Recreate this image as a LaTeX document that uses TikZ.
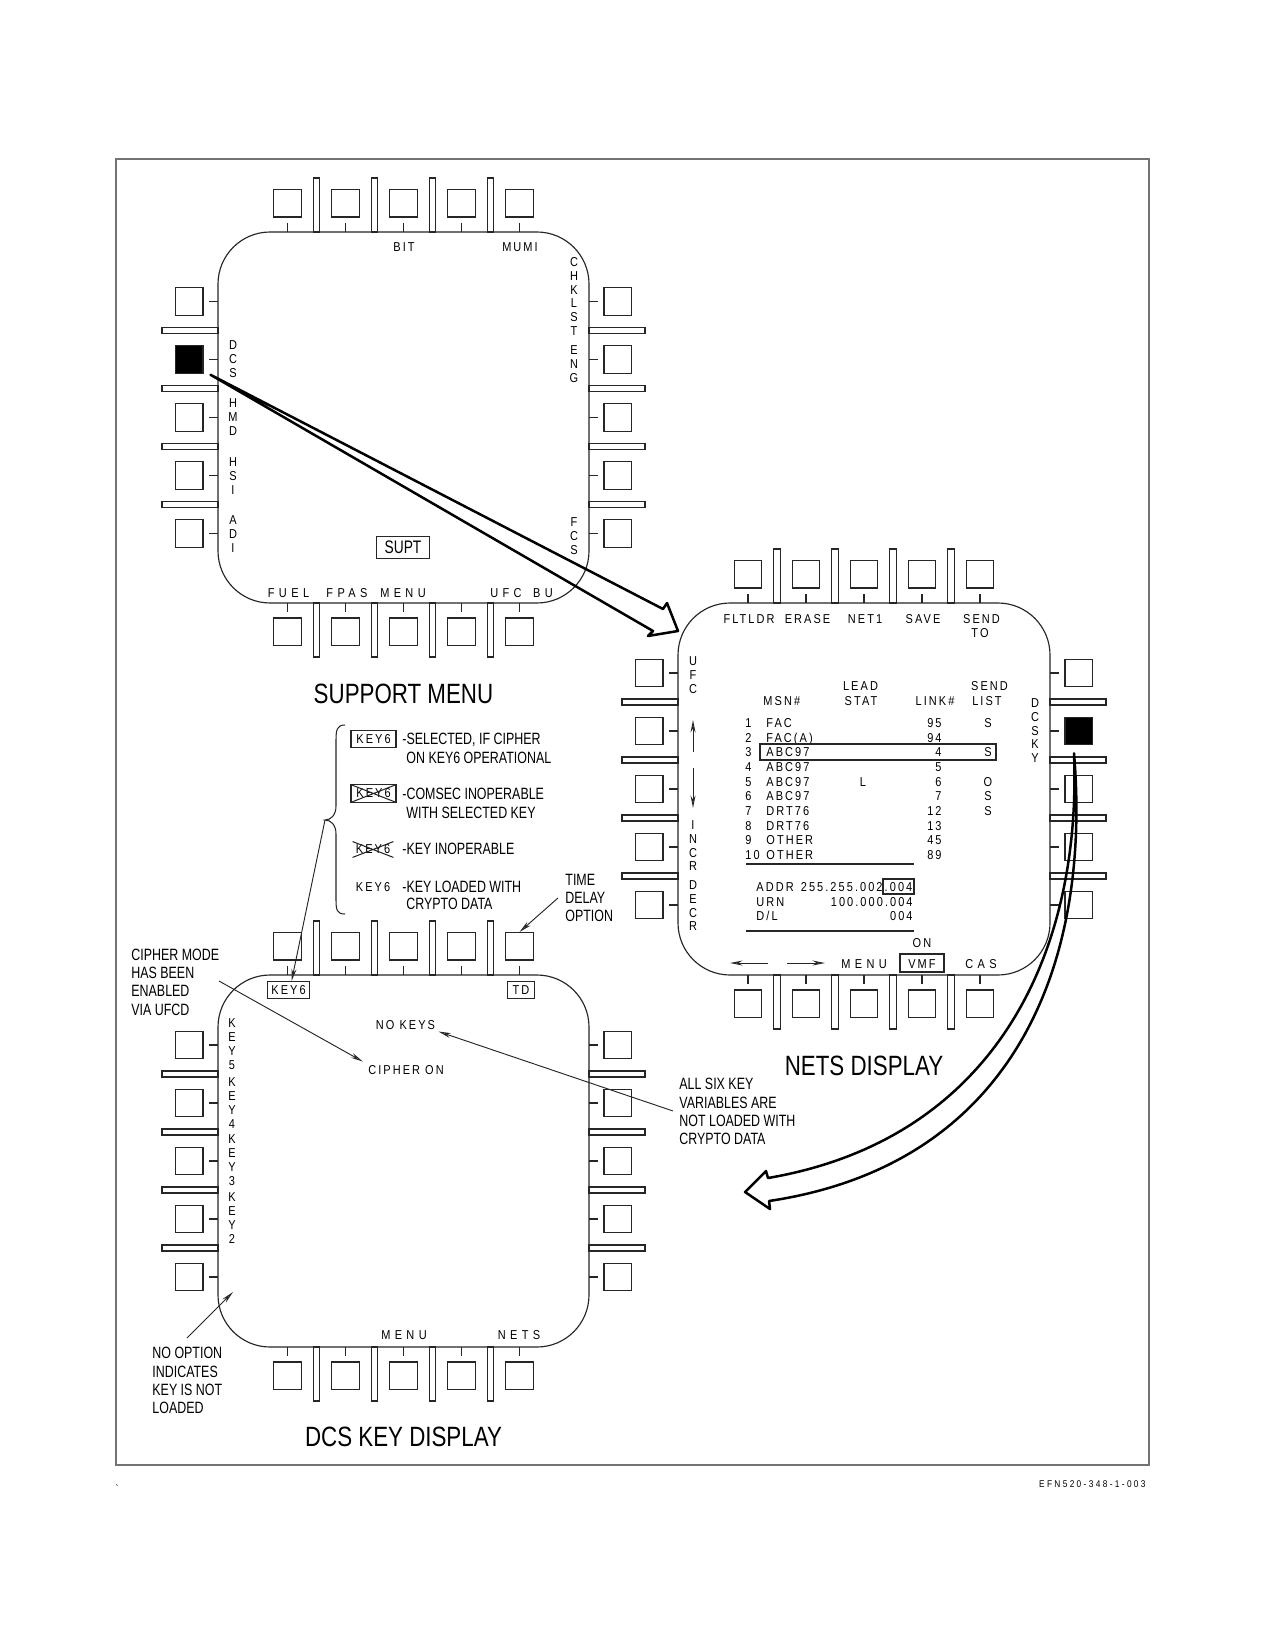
\documentclass[tikz,border=0pt]{standalone}
\usepackage{fontspec}
\setmainfont{Liberation Sans}
\newfontfamily\dfont[FakeStretch=0.85,LetterSpace=16]{Liberation Sans}
\newfontfamily\dwfont[FakeStretch=0.85,LetterSpace=34]{Liberation Sans}
\newfontfamily\efont[FakeStretch=0.85,LetterSpace=24]{Liberation Sans}
\newfontfamily\vfont[FakeStretch=0.85]{Liberation Sans}
\newfontfamily\afont[FakeStretch=0.76]{Liberation Sans}
\newfontfamily\tfont[FakeStretch=0.8]{Liberation Sans}
\usetikzlibrary{arrows.meta,calc}

\tikzset{
  ln/.style={draw=black!85, line width=0.5pt},
  btn/.style={draw=black!85, line width=0.5pt, minimum size=13.2pt, inner sep=0pt, fill=white},
  disp/.style={draw=black!85, line width=0.55pt, rounded corners=25pt},
  dl/.style={font=\dfont\fontsize{6.2pt}{6.53pt}\selectfont, inner sep=0pt},
  dw/.style={font=\dwfont\fontsize{6.2pt}{6.53pt}\selectfont, inner sep=0pt},
  vl/.style={font=\vfont\fontsize{6.2pt}{6.55pt}\selectfont, inner sep=0pt, align=center, anchor=north},
  an/.style={font=\afont\fontsize{7.85pt}{8.75pt}\selectfont, inner sep=0pt, align=left},
  ttl/.style={font=\tfont\fontsize{13.4pt}{15pt}\selectfont, inner sep=0pt},
  lead/.style={draw=black!85, line width=0.45pt, -{Stealth[open,length=6pt,width=2.4pt]}},
  big/.style={draw=black, line width=1.2pt, line join=round},
  kbox/.style={dl, draw=black!85, line width=0.5pt, minimum width=21.6pt, minimum height=8.2pt},
}

\newcommand\mfd[8]{%
  \draw[disp] ({#2-#4},{#3-#5}) rectangle ({#2+#4},{#3+#5});
  \foreach \k in {1,...,5}{%
    \pgfmathsetmacro\bx{#2+(\k-3)*58}%
    \pgfmathsetmacro\by{#3+(\k-3)*#6}%
    \ifnum\k=#7 \def\lfill{black}\else\def\lfill{white}\fi
    \ifnum\k=#8 \def\rfill{black}\else\def\rfill{white}\fi
    \node[btn] (#1-t\k) at (\bx,{#3-#5-28.75}) {};
    \node[btn] (#1-b\k) at (\bx,{#3+#5+28.75}) {};
    \node[btn,fill=\lfill] (#1-l\k) at ({#2-#4-28.75},\by) {};
    \node[btn,fill=\rfill] (#1-r\k) at ({#2+#4+28.75},\by) {};
    \draw[ln] (\bx,{#3-#5-9}) -- (\bx,{#3-#5}) (\bx,{#3+#5}) -- (\bx,{#3+#5+9})
              ({#2-#4-9},\by) -- ({#2-#4},\by) ({#2+#4},\by) -- ({#2+#4+9},\by);
  }%
  \foreach \k in {1,...,4}{%
    \pgfmathsetmacro\sx{#2+(\k-2.5)*58}%
    \pgfmathsetmacro\sy{#3+(\k-2.5)*#6}%
    \draw[ln] ({\sx-3.3},{#3-#5}) rectangle ({\sx+3.3},{#3-#5-54})
              ({\sx-3.3},{#3+#5}) rectangle ({\sx+3.3},{#3+#5+54})
              ({#2-#4},{\sy-3}) rectangle ({#2-#4-56},{\sy+3})
              ({#2+#4},{\sy-3}) rectangle ({#2+#4+56},{\sy+3});
  }%
}

\begin{document}
\begin{tikzpicture}[x=0.48pt,y=-0.48pt]
\useasboundingbox (0,0) rectangle (1275,1650);
\fill[white] (0,0) rectangle (1275,1650);
\draw[black!55, line width=0.6pt] (116,159) rectangle (1149,1465);

% ---------- displays ----------
\mfd{sm}{403.5}{417.5}{185.5}{185.5}{58}{2}{0}
\mfd{nd}{864}{789}{186}{186}{58}{0}{2}
\mfd{dk}{403.5}{1161}{185.5}{186}{58}{0}{0}

% ---------- SUPPORT MENU ----------
\node[dl, anchor=base] (sm-bit) at (404,252) {BIT};
\node[dl, anchor=base] (sm-mumi) at (520,252) {MUMI};
\node[vl] (sm-chk) at (574,257.5) {C\\H\\K\\L\\S\\T};
\node[vl] (sm-eng) at (574,345.5) {E\\N\\G};
\node[vl] (sm-fcs) at (574,517.5) {F\\C\\S};
\node[vl] (sm-dcs) at (233,340.5) {D\\C\\S};
\node[vl] (sm-hmd) at (233,398.5) {H\\M\\D};
\node[vl] (sm-hsi) at (233,457.5) {H\\S\\I};
\node[vl] (sm-adi) at (233,515.5) {A\\D\\I};
\node[draw=black!85, line width=0.5pt, font=\afont\fontsize{8.7pt}{9pt}\selectfont, inner sep=0pt,
      minimum width=25pt, minimum height=11pt] (sm-supt) at (403,547.5) {SUPT};
\node[dw, anchor=base] (sm-fuel) at (288.5,597) {FUEL};
\node[dw, anchor=base] (sm-fpas) at (347,597) {FPAS};
\node[dw, anchor=base] (sm-menu) at (403,597) {MENU};
\node[dw, anchor=base] (sm-ufc) at (506,597) {UFC};
\node[dw, anchor=base] (sm-bu) at (543,597) {BU};
\node[ttl] (sm-title) at (403.5,694) {SUPPORT MENU};

% ---------- NETS DISPLAY ----------
\node[dl, anchor=base] (nd-fltldr) at (749,623) {FLTLDR};
\node[dl, anchor=base] (nd-erase) at (807.5,623) {ERASE};
\node[dl, anchor=base] (nd-net1) at (865,623) {NET1};
\node[dl, anchor=base] (nd-save) at (923,623) {SAVE};
\node[dl, anchor=base] (nd-send) at (981.5,623) {SEND};
\node[dl, anchor=base] (nd-to) at (980,637) {TO};
\node[vl] (nd-ufc) at (693,656.5) {U\\F\\C};
\node[vl] (nd-incr) at (693,820.5) {I\\N\\C\\R};
\node[vl] (nd-decr) at (693,880.5) {D\\E\\C\\R};
\node[vl] (nd-dcsky) at (1035,698.5) {D\\C\\S\\K\\Y};
\coordinate (nd-up0) at (693,752);
\coordinate (nd-up1) at (693,720);
\coordinate (nd-dn0) at (693,768);
\coordinate (nd-dn1) at (693,808);
\draw[lead] (nd-up0) -- (nd-up1);
\draw[lead] (nd-dn0) -- (nd-dn1);

\node[dl, anchor=base west] (nd-msn) at (763,705.6) {MSN\#};
\node[dl, anchor=base] (nd-lead) at (860.5,690.6) {LEAD};
\node[dl, anchor=base] (nd-stat) at (861,705.6) {STAT};
\node[dl, anchor=base] (nd-link) at (935,705.6) {LINK\#};
\node[dl, anchor=base] (nd-sendl) at (989.5,690.6) {SEND};
\node[dl, anchor=base] (nd-list) at (987,705.6) {LIST};

\foreach \i/\rnm/\rlk/\rsd in {1/FAC/95/S, 2/FAC(A)/94/{}, 3/ABC97/4/S, 4/ABC97/5/{}, 5/ABC97/6/O,
  6/ABC97/7/S, 7/DRT76/12/S, 8/DRT76/13/{}, 9/OTHER/45/{}, 10/OTHER/89/{}}{%
  \pgfmathsetmacro\ry{727.6+(\i-1)*14.67}%
  \node[dl, anchor=base west] (nd-n\i) at (745,\ry) {\i};
  \node[dl, anchor=base west] (nd-m\i) at (766,\ry) {\rnm};
  \node[dl, anchor=base east] (nd-k\i) at (942,\ry) {\rlk};
  \node[dl, anchor=base] (nd-s\i) at (988,\ry) {\rsd};
}
\node[dl, anchor=base] (nd-l5) at (863,{727.6+4*14.67}) {L};
\draw[ln] (760,744) rectangle (996,760);
\coordinate (nd-ln1a) at (746,864);
\coordinate (nd-ln1b) at (914,864);
\coordinate (nd-ln2a) at (746,931);
\coordinate (nd-ln2b) at (914,931);
\draw[ln] (nd-ln1a) -- (nd-ln1b);
\draw[ln] (nd-ln2a) -- (nd-ln2b);
\node[dl, anchor=base west] (nd-addr) at (756,891.6) {ADDR};
\node[dl, anchor=base east] (nd-addrv) at (883,891.6) {255.255.002};
\node[dl, anchor=base] (nd-addrs) at (898.5,891.6) {.004};
\draw[ln] (883,879) rectangle (914,894);
\node[dl, anchor=base west] (nd-urn) at (756,906.6) {URN};
\node[dl, anchor=base east] (nd-urnv) at (913,906.6) {100.000.004};
\node[dl, anchor=base west] (nd-dl) at (756,920.6) {D/L};
\node[dl, anchor=base east] (nd-dlv) at (913,920.6) {004};
\node[dl, anchor=base] (nd-on) at (922,947.6) {ON};
\coordinate (nd-la0) at (768,963);
\coordinate (nd-la1) at (730,963);
\coordinate (nd-ra0) at (787,963);
\coordinate (nd-ra1) at (825,963);
\draw[lead] (nd-la0) -- (nd-la1);
\draw[lead] (nd-ra0) -- (nd-ra1);
\node[dw, anchor=base] (nd-menu) at (864,968) {MENU};
\node[dl, anchor=base] (nd-vmf) at (922,968) {VMF};
\draw[ln] (900,954) rectangle (944,972);
\node[dw, anchor=base] (nd-cas) at (981,968) {CAS};
\node[ttl] (nd-title) at (864,1066) {NETS DISPLAY};

% ---------- DCS KEY DISPLAY ----------
\node[kbox, minimum width=20.6pt, minimum height=7.9pt] (dk-key6) at (288.5,990) {KEY6};
\node[kbox, minimum width=13.4pt, minimum height=7.9pt] (dk-td) at (521,990) {TD};
\node[vl, font=\vfont\fontsize{6.2pt}{6.72pt}\selectfont] (dk-k5) at (232,1018) {K\\E\\Y\\5};
\node[vl, font=\vfont\fontsize{6.2pt}{6.72pt}\selectfont] (dk-k4) at (232,1077) {K\\E\\Y\\4};
\node[vl, font=\vfont\fontsize{6.2pt}{6.72pt}\selectfont] (dk-k3) at (232,1134) {K\\E\\Y\\3};
\node[vl, font=\vfont\fontsize{6.2pt}{6.72pt}\selectfont] (dk-k2) at (232,1192.6) {K\\E\\Y\\2};
\node[dl, anchor=base] (dk-nokeys) at (405.5,1029.5) {NO KEYS};
\node[dl, anchor=base] (dk-cipher) at (406,1074) {CIPHER ON};
\node[dw, anchor=base] (dk-menu) at (404,1339.5) {MENU};
\node[dw, anchor=base] (dk-nets) at (519,1339.5) {NETS};
\node[ttl] (dk-title) at (403.5,1437) {DCS KEY DISPLAY};

% ---------- legend ----------
\coordinate (br-tip) at (325,820);
\draw[ln] (345,725) .. controls (337,725) and (336,730) .. (336,740) -- (336,806)
          .. controls (336,815) and (331,820) .. (br-tip)
          .. controls (331,820) and (336,825) .. (336,834) -- (336,900)
          .. controls (336,910) and (337,914) .. (345,914);
\node[kbox] (lg-k1) at (373.5,739) {KEY6};
\node[an, anchor=base west] (lg-t1a) at (402,744) {-SELECTED, IF CIPHER};
\node[an, anchor=base west] (lg-t1b) at (406,763) {ON KEY6 OPERATIONAL};
\node[kbox] (lg-k2) at (373.5,793.5) {KEY6};
\draw[ln] (lg-k2.north west) -- (lg-k2.south east) (lg-k2.south west) -- (lg-k2.north east);
\node[an, anchor=base west] (lg-t2a) at (402,799) {-COMSEC INOPERABLE};
\node[an, anchor=base west] (lg-t2b) at (406,818) {WITH SELECTED KEY};
\node[dl, minimum width=19.2pt, minimum height=7.2pt] (lg-k3) at (373,849.5) {KEY6};
\draw[ln] (lg-k3.north west) -- (lg-k3.south east) (lg-k3.south west) -- (lg-k3.north east);
\node[an, anchor=base west] (lg-t3a) at (402,854) {-KEY INOPERABLE};
\node[dl, anchor=base] (lg-k4) at (373,891) {KEY6};
\node[an, anchor=base west] (lg-t4a) at (402,892) {-KEY LOADED WITH};
\node[an, anchor=base west] (lg-t4b) at (406,909) {CRYPTO DATA};
\draw[lead] (br-tip) -- ($(dk-key6.north)+(3,0)$);

% ---------- notes ----------
\node[an, anchor=north west] (nt-td) at (565,873.5) {TIME\\DELAY\\OPTION};
\coordinate (nt-td-from) at (558,898);
\draw[lead] (nt-td-from) -- (dk-t5.north);

\node[an, anchor=north west] (nt-ciph) at (131,948.6) {CIPHER MODE\\HAS BEEN\\ENABLED\\VIA UFCD};
\coordinate (nt-ciph-from) at (219,981);
\draw[lead] (nt-ciph-from) -- ($(dk-cipher.north west)+(-5,-3)$);

\node[an, anchor=north west] (nt-six) at (679,1078) {ALL SIX KEY\\VARIABLES ARE\\NOT LOADED WITH\\CRYPTO DATA};
\coordinate (nt-six-from) at (673,1111);
\draw[lead] (nt-six-from) -- ($(dk-nokeys.south east)+(3,1.5)$);

\node[an, anchor=north west] (nt-noopt) at (152,1347) {NO OPTION\\INDICATES\\KEY IS NOT\\LOADED};
\coordinate (nt-noopt-from) at (187,1338);
\coordinate (nt-noopt-to) at (233,1292);
\draw[lead] (nt-noopt-from) -- (nt-noopt-to);

% ---------- big arrows ----------
\coordinate (ba-tail) at ($(sm-l2.south east)+(7,1)$);
\coordinate (ba-tip) at (678,631);
\draw[big] (ba-tail) -- (663,609) -- (667,603) -- (ba-tip) -- (648,636) -- (653,631) -- cycle;

\coordinate (ca-tail) at ($(nd-r2.south)+(-4.75,8)$);
\coordinate (ca-tip) at (745,1192);
\draw[big] (ca-tail) .. controls (1082,960) and (990,1140) .. (768,1178) -- (766,1171) -- (ca-tip)
   -- (770,1209) -- (769,1201) .. controls (1010,1165) and (1092,970) .. (ca-tail) -- cycle;

% ---------- footer ----------
\node[font=\efont\fontsize{4.7pt}{5pt}\selectfont, inner sep=0pt, anchor=base east] (efn) at (1146,1487) {EFN520-348-1-003};
\node[font=\vfont\fontsize{5pt}{5pt}\selectfont, inner sep=0pt] (tick) at (117,1489) {`};
\end{tikzpicture}
\end{document}
